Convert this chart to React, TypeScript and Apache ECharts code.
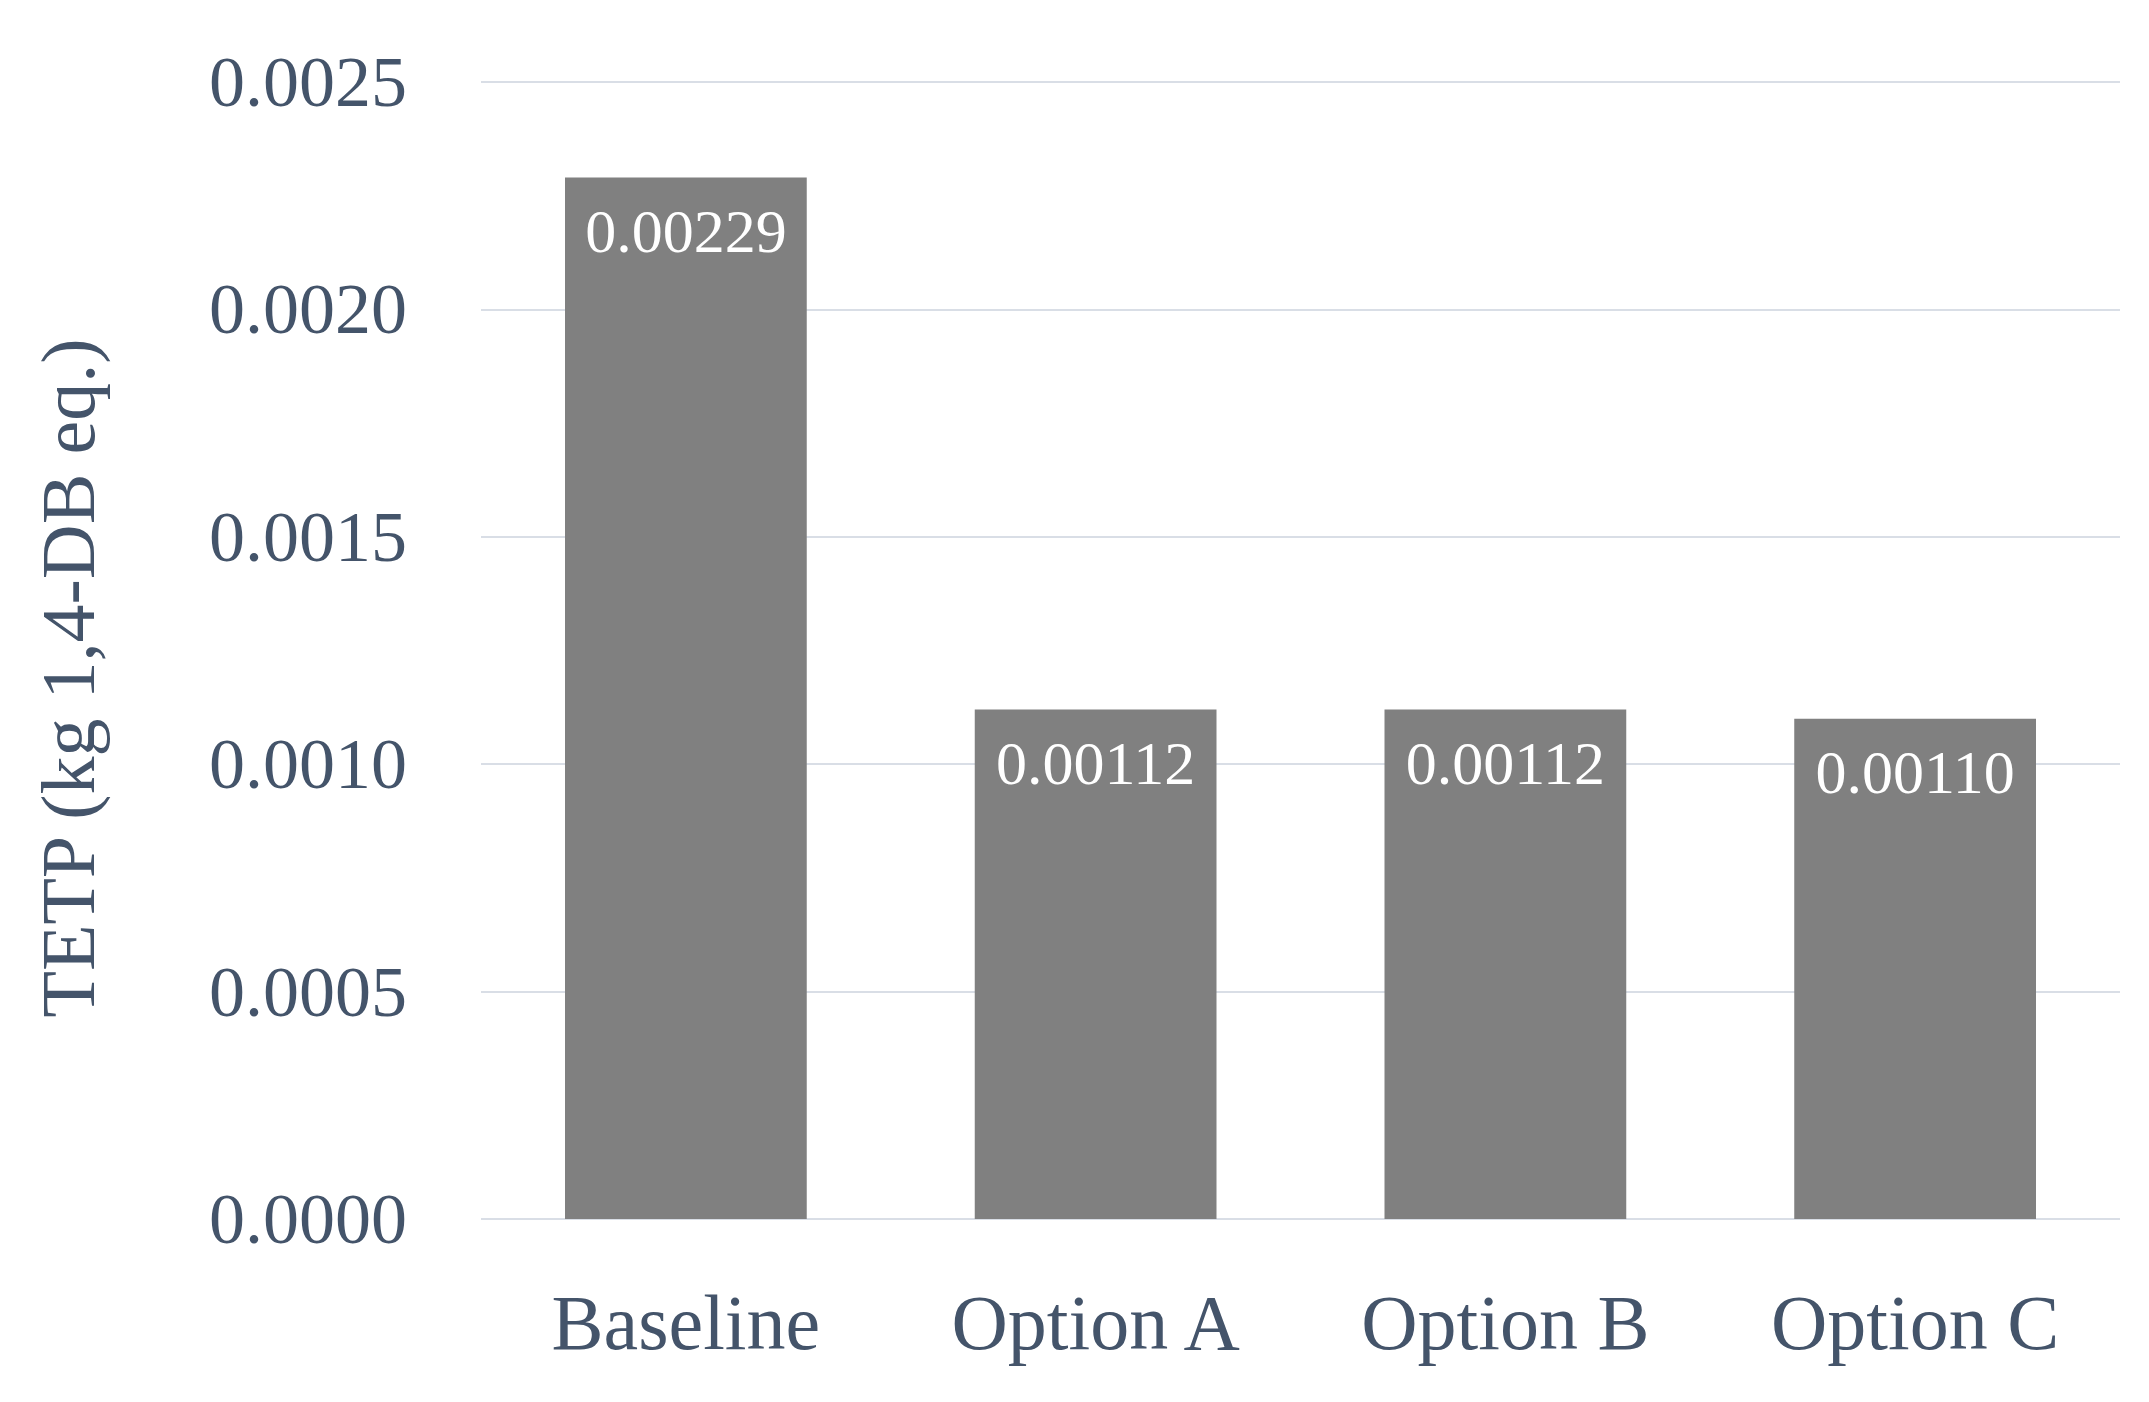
import React, { useEffect, useRef } from "react";
import * as echarts from "echarts";

const categories = ["Baseline", "Option A", "Option B", "Option C"];
const values = [0.00229, 0.00112, 0.00112, 0.0011];
const valueLabels = ["0.00229", "0.00112", "0.00112", "0.00110"];
const yTitle = "TETP (kg 1,4-DB eq.)";

const TEXT = "#44546A";
const FONT = "'Liberation Serif', 'Times New Roman', serif";

export default function App() {
  const ref = useRef<HTMLDivElement>(null);
  useEffect(() => {
    const chart = echarts.init(ref.current!, null, { renderer: "svg" });
    chart.setOption({
      animation: false,
      backgroundColor: "#ffffff",
      grid: { left: 481, right: 29, top: 82, bottom: 183, containLabel: false },
      xAxis: {
        type: "category",
        data: categories,
        axisLine: { show: false },
        axisTick: { show: false },
        axisLabel: { color: TEXT, fontFamily: FONT, fontSize: 78, margin: 64 },
      },
      yAxis: {
        type: "value",
        min: 0,
        max: 0.0025,
        interval: 0.0005,
        axisLine: { show: false },
        axisTick: { show: false },
        splitLine: { lineStyle: { color: "#D9DEE6", width: 2 } },
        axisLabel: {
          color: TEXT,
          fontFamily: FONT,
          fontSize: 72,
          margin: 74,
          padding: [0, 0, 10, 0],
          formatter: (v: number) => v.toFixed(4),
        },
      },
      graphic: [
        {
          type: "text",
          x: 68,
          y: 678,
          rotation: Math.PI / 2,
          style: {
            text: yTitle,
            fill: TEXT,
            font: `76px ${FONT}`,
            textAlign: "center",
            textVerticalAlign: "middle",
          },
        },
      ],
      series: [
        {
          type: "bar",
          data: values,
          barCategoryGap: "41%",
          itemStyle: { color: "#808080" },
          label: {
            show: true,
            position: "insideTop",
            distance: 22,
            color: "#ffffff",
            fontFamily: FONT,
            fontSize: 62,
            formatter: (p: any) => valueLabels[p.dataIndex],
          },
        },
      ],
    });
    return () => chart.dispose();
  }, []);
  return (
    <div
      ref={ref}
      style={{ position: "fixed", left: 0, top: 0, width: 2149, height: 1402 }}
    />
  );
}
